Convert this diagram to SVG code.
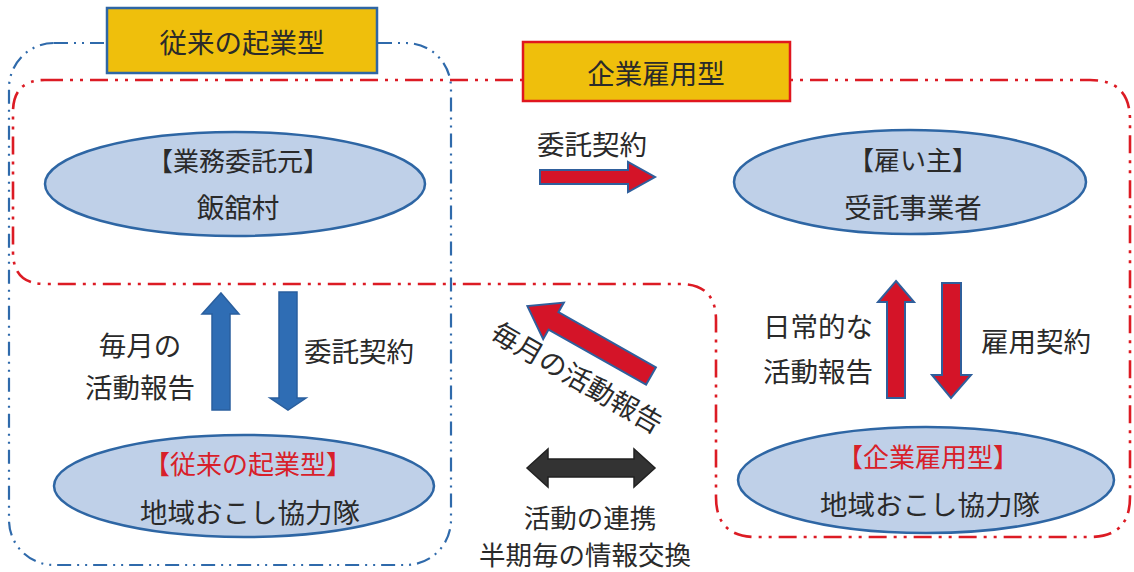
<svg xmlns="http://www.w3.org/2000/svg" width="1134" height="572" viewBox="0 0 1134 572">
<style>
text{font-family:"Noto Sans CJK JP","Noto Sans",sans-serif;font-size:27.5px;fill:#2a2a2a;text-anchor:middle;dominant-baseline:central}
.br{font-size:26px}
.sm{font-size:26.5px}
.red{fill:#d8202a}
.ell{fill:#bfd0e8;stroke:#2e66a4;stroke-width:2.5}
.title{fill:#efbf0c;stroke-width:2.5}
.barrow{fill:#2f6db4;stroke:#2a5f9e;stroke-width:1.5}
.rarrow{fill:#d41428;stroke:#2f5f9c;stroke-width:2}
.karrow{fill:#333;stroke:#222;stroke-width:1.5}
.bdash{fill:none;stroke:#2f6aab;stroke-width:2.2;stroke-dasharray:14 6 2 6 2 6}
.rdash{fill:none;stroke:#dc1b24;stroke-width:2.6;stroke-dasharray:18 7 3 7 3 7}
</style>
<g id="frames">
<rect class="bdash" x="9" y="43" width="442" height="522" rx="45"/>
<path class="rdash" d="M45,80 H1090 Q1130,80 1130,120 V497 Q1130,537 1090,537 H756 Q716,537 716,497 V320 Q716,284 680,284 H45 Q13,284 13,252 V112 Q13,80 45,80 Z"/>
</g>
<g id="title-jurai">
<rect class="title" x="107" y="8" width="270" height="65" stroke="#2e66a4"/>
<text x="242" y="41">従来の起業型</text>
</g>
<g id="title-kigyo">
<rect class="title" x="523" y="42" width="267" height="59" stroke="#e0161e"/>
<text x="656" y="72">企業雇用型</text>
</g>
<g id="node-itaku">
<ellipse class="ell" cx="235" cy="184" rx="190" ry="52"/>
<text x="238" y="159" class="br">【業務委託元】</text>
<text x="238" y="206">飯舘村</text>
</g>
<g id="node-yatoi">
<ellipse class="ell" cx="910" cy="182" rx="176" ry="52"/>
<text x="913" y="158" class="br">【雇い主】</text>
<text x="913" y="206">受託事業者</text>
</g>
<g id="node-jurai-team">
<ellipse class="ell" cx="244" cy="486" rx="190" ry="51"/>
<text x="248" y="462" class="br red">【従来の起業型】</text>
<text x="250" y="511">地域おこし協力隊</text>
</g>
<g id="node-kigyo-team">
<ellipse class="ell" cx="926" cy="480" rx="188" ry="53"/>
<text x="928" y="455" class="br red">【企業雇用型】</text>
<text x="930" y="503">地域おこし協力隊</text>
</g>
<g id="connectors">
<polygon class="rarrow" points="540,170 628,170 628,162 655,177 628,192 628,184 540,184"/>
<text x="592" y="143">委託契約</text>
<polygon class="barrow" points="221,293 239,314 230,314 230,410 212,410 212,314 202,314"/>
<polygon class="barrow" points="279,292 297,292 297,398 306,398 288,410 270,398 279,398"/>
<text x="140" y="344">毎月の</text>
<text x="140" y="386">活動報告</text>
<text x="359" y="350">委託契約</text>
<polygon class="rarrow" points="896,281 914,302 905,302 905,398 887,398 887,302 878,302"/>
<polygon class="rarrow" points="942,283 961,283 961,375 971,375 951,398 932,375 942,375"/>
<text x="818" y="325">日常的な</text>
<text x="818" y="370">活動報告</text>
<text x="1036" y="340">雇用契約</text>
<polygon class="rarrow" transform="translate(651,376) rotate(209.5)" points="0,-10 112,-10 112,-21 142,0 112,21 112,10 0,10"/>
<text transform="translate(578,376) rotate(30)" x="0" y="0">毎月の活動報告</text>
<polygon class="karrow" points="527,468 548,449 548,459 634,459 634,449 655,468 634,487 634,477 548,477 548,487"/>
<text x="590" y="516" class="sm">活動の連携</text>
<text x="585" y="553" class="sm">半期毎の情報交換</text>
</g>
</svg>
